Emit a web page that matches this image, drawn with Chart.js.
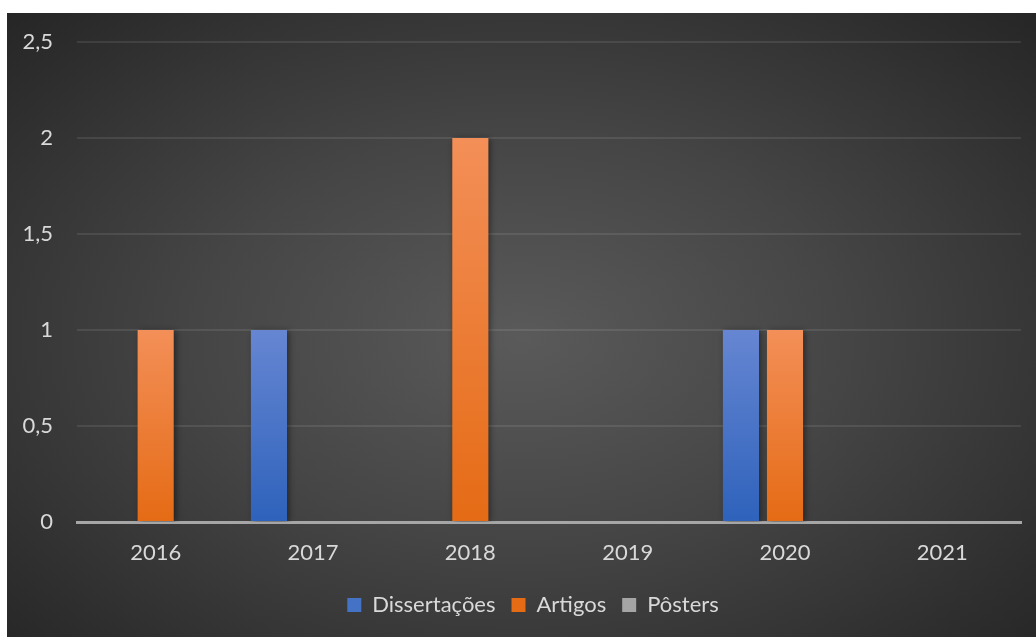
<!DOCTYPE html>
<html>
<head>
<meta charset="utf-8">
<script src="https://cdn.jsdelivr.net/npm/chart.js@4.4.1/dist/chart.umd.min.js"></script>
<style>
  html, body { margin: 0; background: #fff; }
  #box {
    position: absolute; left: 7px; top: 13px; width: 1029px; height: 624px;
    background: radial-gradient(ellipse at 50% 52%, #5a5a5a 0%, #454545 45%, #2e2e2e 85%, #262626 100%);
  }
</style>
</head>
<body>
<div id="box"><canvas id="barchart"></canvas></div>
<script>
const years = ["2016", "2017", "2018", "2019", "2020", "2021"];
const dissertacoes = [0, 1, 0, 0, 1, 0];
const artigos = [1, 0, 2, 0, 1, 0];
const posters = [0, 0, 0, 0, 0, 0];
const yMax = 2.5;
const yStep = 0.5;

// vertical gradient per bar, light at the top
function barFill(top, bottom, solid) {
  return (c) => {
    if (c.type !== "data") return solid;
    const y = c.chart.scales.y;
    if (!y) return solid;
    const y0 = y.getPixelForValue(c.raw);
    const y1 = y.getPixelForValue(0);
    if (!(y1 > y0)) return solid;
    const g = c.chart.ctx.createLinearGradient(0, y0, 0, y1);
    g.addColorStop(0, top);
    g.addColorStop(1, bottom);
    return g;
  };
}

const barShadow = {
  id: "barShadow",
  beforeDatasetsDraw(chart) {
    const ctx = chart.ctx;
    ctx.save();
    ctx.shadowColor = "rgba(0,0,0,0.45)";
    ctx.shadowBlur = 6;
    ctx.shadowOffsetX = 2;
    ctx.shadowOffsetY = 1;
  },
  afterDatasetsDraw(chart) {
    chart.ctx.restore();
  },
};

// legend sits a bit right of the canvas centre in the original
const legendShift = {
  id: "legendShift",
  afterLayout(chart) {
    if (chart.legend) chart.legend.left += 38;
  },
};

Chart.defaults.font.family = "Lato, 'Open Sans', sans-serif";
Chart.defaults.font.size = 22;
Chart.defaults.color = "#d9d9d9";

const ctx = document.getElementById("barchart");

new Chart(ctx, {
  type: "bar",
  data: {
    labels: years,
    datasets: [
      {
        label: "Dissertações",
        data: dissertacoes,
        backgroundColor: barFill("#6686d2", "#2e62bb", "#4472c4"),
      },
      {
        label: "Artigos",
        data: artigos,
        backgroundColor: barFill("#f38f58", "#e56b15", "#ed7d31"),
      },
      {
        label: "Pôsters",
        data: posters,
        backgroundColor: barFill("#bdbdbd", "#8f8f8f", "#a5a5a5"),
      },
    ],
  },
  options: {
    responsive: true,
    maintainAspectRatio: false,
    animation: false,
    categoryPercentage: 0.84,
    barPercentage: 0.82,
    layout: { padding: { top: 29, right: 15, left: 0, bottom: 11 } },
    scales: {
      x: {
        grid: { display: false, drawTicks: false },
        border: { color: "#a6a6a6", width: 3 },
        ticks: { padding: 18 },
        afterFit: (s) => { s.height = 56; },
      },
      y: {
        min: 0,
        max: yMax,
        ticks: {
          stepSize: yStep,
          padding: 24,
          callback: (v) => String(v).replace(".", ","),
        },
        grid: {
          drawTicks: false,
          lineWidth: 2,
          color: (c) => (c.tick && c.tick.value === 0 ? "rgba(0,0,0,0)" : "rgba(255,255,255,0.09)"),
        },
        border: { display: false },
        afterFit: (s) => {
          s.width = 70;
          s.paddingTop = 0;
          s.paddingBottom = 0;
        },
      },
    },
    plugins: {
      tooltip: { enabled: false },
      legend: {
        position: "bottom",
        labels: {
          boxWidth: 14,
          boxHeight: 14,
          padding: 16,
          color: "#d9d9d9",
          font: { size: 22 },
        },
      },
    },
  },
  plugins: [barShadow, legendShift],
});
</script>
</body>
</html>
